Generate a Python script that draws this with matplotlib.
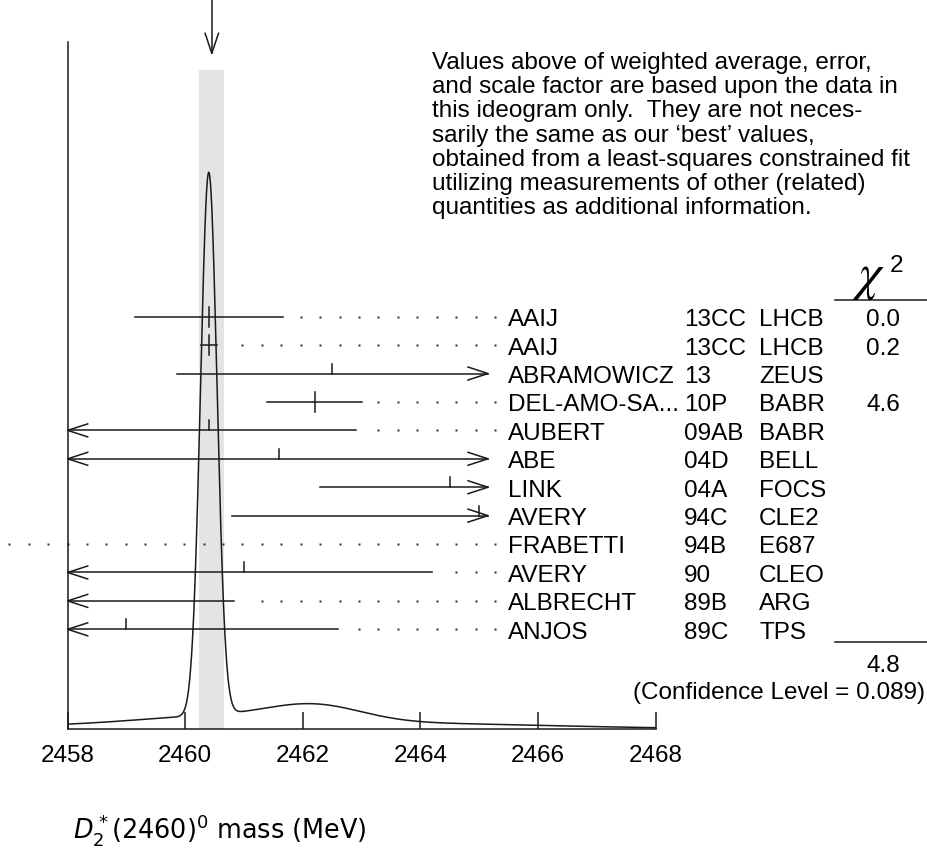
import numpy as np
import matplotlib.pyplot as plt
from matplotlib.transforms import blended_transform_factory

plt.rcParams['font.family'] = ['Liberation Sans', 'DejaVu Sans']

# measurements, top row first
names = ['AAIJ', 'AAIJ', 'ABRAMOWICZ', 'DEL-AMO-SA...', 'AUBERT', 'ABE',
         'LINK', 'AVERY', 'FRABETTI', 'AVERY', 'ALBRECHT', 'ANJOS']
years = ['13CC', '13CC', '13', '10P', '09AB', '04D',
         '04A', '94C', '94B', '90', '89B', '89C']
expts = ['LHCB', 'LHCB', 'ZEUS', 'BABR', 'BABR', 'BELL',
         'FOCS', 'CLE2', 'E687', 'CLEO', 'ARG', 'TPS']
mass = np.array([2460.4, 2460.4, 2462.5, 2462.2, 2460.4, 2461.6,
                 2464.5, 2465.0, 2453.0, 2461.0, 2455.0, 2459.0])
err_lo = np.array([1.26, 0.14, 2.64, 0.81, 2.5, 4.0,
                   2.2, 4.2, 3.6, 3.2, 5.83, 3.6])
err_hi = np.array([1.26, 0.14, 2.73, 0.81, 2.5, 4.0,
                   2.2, 4.2, 3.6, 3.2, 5.83, 3.6])
chi2_txt = ['0.0', '0.2', '', '4.6', '', '', '', '', '', '', '', '']
used = np.array([c != '' for c in chi2_txt])

chi2_total = '4.8'
conf_level = '0.089'

note = ['Values above of weighted average, error,',
        'and scale factor are based upon the data in',
        'this ideogram only.  They are not neces-',
        'sarily the same as our \u2018best\u2019 values,',
        'obtained from a least-squares constrained fit',
        'utilizing measurements of other (related)',
        'quantities as additional information.']

x_min, x_max = 2458, 2468
x_clip = 2465.15      # error bars stop here, labels start after
dot_start = 2465.27
dot_step = 0.3306

W, H = 927, 849
ppm = 58.78           # pixels per MeV
fs = 17.5
ink = '#1a1a1a'
lw = 1.1

fig = plt.figure(figsize=(W / 100, H / 100), dpi=100)
ax = fig.add_axes([67.7 / W, 119.7 / H, 587.8 / W, 687 / H])
ax.set_xlim(x_min, x_max)
ax.set_ylim(0, 687)

# weighted average of the measurements with chi2
err = (err_lo + err_hi) / 2
w = 1 / err[used] ** 2
avg = np.sum(w * mass[used]) / np.sum(w)
chi2 = np.sum(((mass[used] - avg) / err[used]) ** 2)
scale = np.sqrt(chi2 / (used.sum() - 1))
avg_err = scale / np.sqrt(np.sum(w))

ax.axvspan(avg - avg_err, avg + avg_err, ymin=0, ymax=659 / 687,
           color='#e4e4e4', lw=0, zorder=0)

# ideogram: sum of gaussians, area ~ 1/sigma
xs = np.linspace(x_min, x_max, 3001)
ideo = np.zeros_like(xs)
for m, e in zip(mass, err):
    ideo += np.exp(-0.5 * ((xs - m) / e) ** 2) / e ** 2
ideo *= 557 / ideo.max()
ax.plot(xs, ideo, color=ink, lw=lw, zorder=3)

# arrow at the top
ax.plot([avg, avg], [729.3, 676], color=ink, lw=lw, clip_on=False)
ax.plot([avg - 6.7 / ppm, avg, avg + 6.7 / ppm], [696, 676, 696],
        color=ink, lw=lw, clip_on=False)

tr = blended_transform_factory(fig.transFigure, ax.transData)
row_top = 412.6
row_step = 28.42
hx = 20 / ppm
hy = 6.5

for i in range(len(names)):
    y = row_top - i * row_step
    m = mass[i]
    lo, hi = m - err_lo[i], m + err_hi[i]
    a, b = max(lo, x_min), min(hi, x_clip)
    if b > a:
        ax.plot([a, b], [y, y], color=ink, lw=lw, zorder=4)
        if lo < x_min:
            ax.plot([x_min + hx, x_min, x_min + hx], [y + hy, y, y - hy],
                    color=ink, lw=lw, zorder=4, clip_on=False)
        if hi > x_clip:
            ax.plot([x_clip - hx, x_clip, x_clip - hx], [y + hy, y, y - hy],
                    color=ink, lw=lw, zorder=4)
    if x_min <= m <= x_clip:
        y0 = y - 10 if used[i] else y
        ax.plot([m, m], [y0, y + 10], color=ink, lw=lw, zorder=4)
    dots = dot_start - dot_step * np.arange(40)
    dots = dots[dots > hi + 0.2]
    ax.plot(dots, np.full(len(dots), y), 's', ms=1.6, color='#333333',
            mec='none', clip_on=False)

    yb = y - 9.4
    ax.text(508 / W, yb, names[i], transform=tr, fontsize=fs, va='baseline')
    ax.text(684 / W, yb, years[i], transform=tr, fontsize=fs, va='baseline')
    ax.text(759 / W, yb, expts[i], transform=tr, fontsize=fs, va='baseline')
    if chi2_txt[i]:
        ax.text(883 / W, yb, chi2_txt[i], transform=tr, fontsize=fs,
                va='baseline', ha='center')

# chi2 column header and total
fig.text(869 / W, 1 - 289 / H, r'$\chi$', fontsize=37, math_fontfamily='stix',
         ha='center', va='baseline')
fig.text(890 / W, 1 - 271.5 / H, '2', fontsize=17.5, va='baseline')
fig.add_artist(plt.Line2D([835 / W, 1], [1 - 300 / H] * 2, color=ink, lw=lw))
fig.add_artist(plt.Line2D([835 / W, 1], [1 - 642.3 / H] * 2, color=ink, lw=lw))
fig.text(883 / W, 1 - 671.7 / H, chi2_total, fontsize=fs, ha='center',
         va='baseline')
fig.text(925 / W, 1 - 699 / H, '(Confidence Level = %s)' % conf_level,
         fontsize=fs, ha='right', va='baseline')

for k, line in enumerate(note):
    fig.text(431.7 / W, 1 - (69 + 24.2 * k) / H, line, fontsize=fs,
             va='baseline')

# axes
for s in ['top', 'right']:
    ax.spines[s].set_visible(False)
for s in ['left', 'bottom']:
    ax.spines[s].set_linewidth(lw)
    ax.spines[s].set_color(ink)
ax.set_yticks([])
ax.set_xticks(range(x_min, x_max + 1, 2))
ax.tick_params(axis='x', direction='in', length=12.2, width=lw, color=ink,
               labelsize=fs, pad=11)

fig.text(73 / W, 1 - 838 / H, r'$D_2^*(2460)^0$ mass (MeV)', fontsize=18.4,
         family='DejaVu Sans', va='baseline')

fig.savefig('out.png', dpi=100)
